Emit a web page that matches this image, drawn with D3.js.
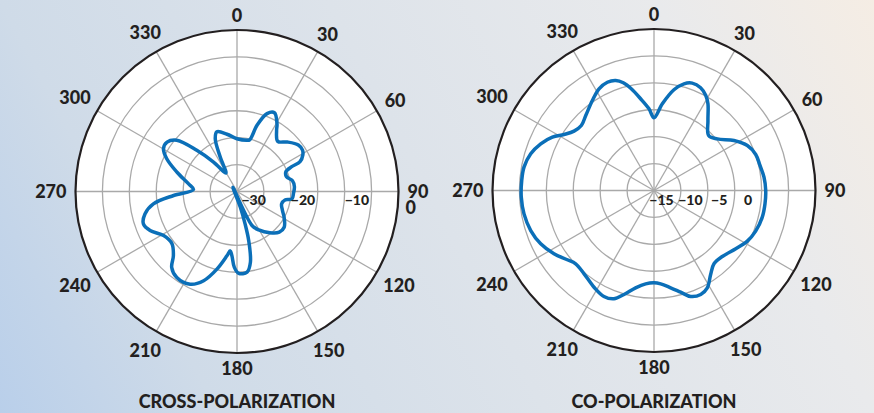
<!DOCTYPE html>
<html>
<head>
<meta charset="utf-8">
<script src="https://cdn.jsdelivr.net/npm/d3@7"></script>
<style>
  html, body { margin: 0; padding: 0; overflow: hidden; }
  svg { display: block; }
  text { font-family: Lato, "Open Sans", sans-serif; font-weight: 900; fill: #231f20; }
</style>
</head>
<body>
<svg id="chart" width="874" height="413"></svg>
<script>
// ---------------- data ----------------
const angleTicks = [0, 30, 60, 90, 120, 150, 180, 210, 240, 270, 300, 330];

const crossRadialTicks = [-30, -20, -10, 0];
const crossDomain = [-30, 0];
const crossAngles = [0, 11.1, 13.8, 16.9, 21.1, 25.4, 30.6, 33, 39.1, 45.4, 52.8, 57.7, 60.9, 64.7, 65.6, 68, 73.4, 79, 85.2, 91.8, 97.8, 100, 105.6, 112.2, 119.6, 127.2, 133.9, 141.4, 150.5, 156.2, 316, 168, 166, 166.6, 169.3, 172.9, 178.8, 182, 184.5, 186.5, 188.9, 194.5, 200.5, 206.8, 215, 220.7, 224.7, 231.2, 239, 245.8, 250.9, 256.3, 261.6, 266.4, 272.6, 279, 287.8, 295, 300.2, 305.2, 310.4, 315.7, 321.5, 329, 334, 337.6, 341.4, 350.1];
const crossDb =     [-20.2, -20.3, -20.1, -17.1, -14.5, -13.8, -15.4, -16.5, -18.0, -16.9, -15.7, -15.6, -16.0, -17.05, -18.85, -20.2, -20.4, -19.5, -19.3, -19.5, -19.7, -20.95, -21.4, -20.9, -19.9, -19.0, -19.1, -20.2, -21.8, -23.1, -28.9, -27.0, -23.8, -20.6, -16.6, -14.9, -14.8, -15.9, -18.0, -18.9, -17.9, -15.1, -12.3, -10.7, -10.5, -11.4, -13.2, -14.5, -14.1, -12.3, -11.6, -12.4, -14.3, -18.2, -21.9, -20.9, -18.3, -15.6, -14.2, -14.1, -15.3, -19.3, -23.0, -26.0, -22.9, -19.4, -18.3, -19.2];

const coRadialTicks = [-15, -10, -5, 0];
const coDomain = [-15, 13];
const coAngles = [0, 5.5, 11.2, 15.7, 19.6, 24.4, 28.6, 31.9, 37.6, 44.8, 50.8, 58, 64.3, 70.5, 76.7, 83.1, 90, 96.8, 103.8, 111.8, 118.5, 125.5, 134, 140.7, 146, 151.3, 155.8, 160.9, 165.3, 170.3, 175.9, 180, 185.1, 190.7, 196.1, 200.3, 205.3, 211.8, 220, 226.9, 231.4, 237.7, 244.8, 252, 259.8, 267.1, 274.3, 280.2, 286.6, 292.4, 297.7, 301.9, 306.6, 311.8, 317.7, 325.6, 331.6, 336.7, 340.8, 344.1, 347.4, 351.7, 356.5];
const coDb =     [-2.4, 0.1, 2.8, 4.21, 4.76, 4.56, 3.76, 2.7, 0.33, -1.55, -0.84, 1.35, 2.96, 3.71, 3.88, 4.21, 4.37, 4.38, 4.33, 3.98, 3.41, 2.41, 1.47, 1.42, 2.56, 4.24, 4.76, 4.45, 3.22, 2.11, 1.23, 1.0, 1.25, 2.17, 3.76, 5.02, 5.32, 4.73, 3.86, 3.6, 4.24, 5.52, 6.71, 7.47, 7.9, 8.04, 8.0, 7.9, 7.3, 6.24, 4.9, 3.38, 2.27, 1.9, 2.58, 3.91, 5.04, 5.44, 5.2, 4.42, 3.07, 1.07, -0.82];

const titles = ["CROSS-POLARIZATION", "CO-POLARIZATION"];

// ---------------- drawing ----------------
const W = 874, H = 413;
const svg = d3.select("#chart");

// background gradient (blue bottom-left -> warm top-right)
const defs = svg.append("defs");
const ga = 0.8, gb = 0.2;
const gx = ga / W, gy = gb / H, gn = gx * gx + gy * gy;
const grad = defs.append("linearGradient").attr("id", "bg")
  .attr("gradientUnits", "userSpaceOnUse")
  .attr("x1", 0).attr("y1", H)
  .attr("x2", gx / gn).attr("y2", H - gy / gn);
[[0, "#b9cfea"], [0.2, "#cfdbe8"], [0.5, "#dde3ea"], [0.8, "#e9eaec"], [1, "#f5ede4"]]
  .forEach(([o, c]) => grad.append("stop").attr("offset", o).attr("stop-color", c));
svg.append("rect").attr("width", W).attr("height", H).attr("fill", "url(#bg)");

function drawPolar(cfg) {
  const g = svg.append("g").attr("transform", `translate(${cfg.cx},${cfg.cy})`);
  const R = cfg.R;
  const r = d3.scaleLinear().domain(cfg.domain).range([0, R]);

  g.append("circle").attr("r", R).attr("fill", "#fff");

  // rings
  g.selectAll("circle.ring").data(d3.range(1, 6)).enter().append("circle")
    .attr("class", "ring").attr("r", k => R * k / 6)
    .attr("fill", "none").attr("stroke", "#a9a9a9").attr("stroke-width", 1.3);
  // spokes
  g.selectAll("line.spoke").data(angleTicks).enter().append("line")
    .attr("x1", 0).attr("y1", 0)
    .attr("x2", a => R * Math.sin(a * Math.PI / 180))
    .attr("y2", a => -R * Math.cos(a * Math.PI / 180))
    .attr("stroke", "#a9a9a9").attr("stroke-width", 1.3);

  // curve
  const pts = cfg.angles.map((a, i) => ({ a, v: cfg.values[i] }));
  const line = d3.lineRadial()
    .angle(d => d.a * Math.PI / 180)
    .radius(d => r(d.v))
    .curve(d3.curveCatmullRomClosed.alpha(0.5));
  g.append("path").attr("d", line(pts))
    .attr("fill", "none").attr("stroke", "#0b6fb8").attr("stroke-width", 3.5)
    .attr("stroke-linejoin", "round");

  // outer circle
  g.append("circle").attr("r", R).attr("fill", "none")
    .attr("stroke", "#231f20").attr("stroke-width", 2.2);

  // radial tick labels
  cfg.radialTicks.forEach(v => {
    if (v === cfg.domain[1]) {
      g.append("text").attr("x", R + 7).attr("y", 22.5)
        .attr("font-size", 18).text(String(v));
      return;
    }
    const t = g.append("text").attr("font-size", 14).attr("y", cfg.labelY)
      .text(v < 0 ? "\u2212" + Math.abs(v) : String(v));
    if (cfg.anchor === "start") {
      t.attr("x", Math.max(r(v), 4.5)).attr("text-anchor", "start");
    } else {
      t.attr("x", r(v) + 7.5).attr("text-anchor", "middle");
    }
  });

  // angle labels
  angleTicks.forEach(a => {
    const th = a * Math.PI / 180;
    const t = g.append("text").attr("font-size", 18).attr("text-anchor", "middle").text(String(a));
    const w = t.node().getComputedTextLength();
    const d = R + 9 + (w / 2) * Math.abs(Math.sin(th)) + 6 * Math.abs(Math.cos(th));
    t.attr("x", d * Math.sin(th)).attr("y", -d * Math.cos(th) + 6.5);
  });

  // title
  svg.append("text").attr("x", cfg.cx).attr("y", 408)
    .attr("text-anchor", "middle").attr("font-size", 18).text(cfg.title);
}

drawPolar({ cx: 237, cy: 191.5, R: 161.5, domain: crossDomain, angles: crossAngles, values: crossDb,
  radialTicks: crossRadialTicks, anchor: "start", labelY: 13.5, title: titles[0] });
drawPolar({ cx: 654, cy: 190.5, R: 161.5, domain: coDomain, angles: coAngles, values: coDb,
  radialTicks: coRadialTicks, anchor: "middle", labelY: 14.5, title: titles[1] });
</script>
</body>
</html>
